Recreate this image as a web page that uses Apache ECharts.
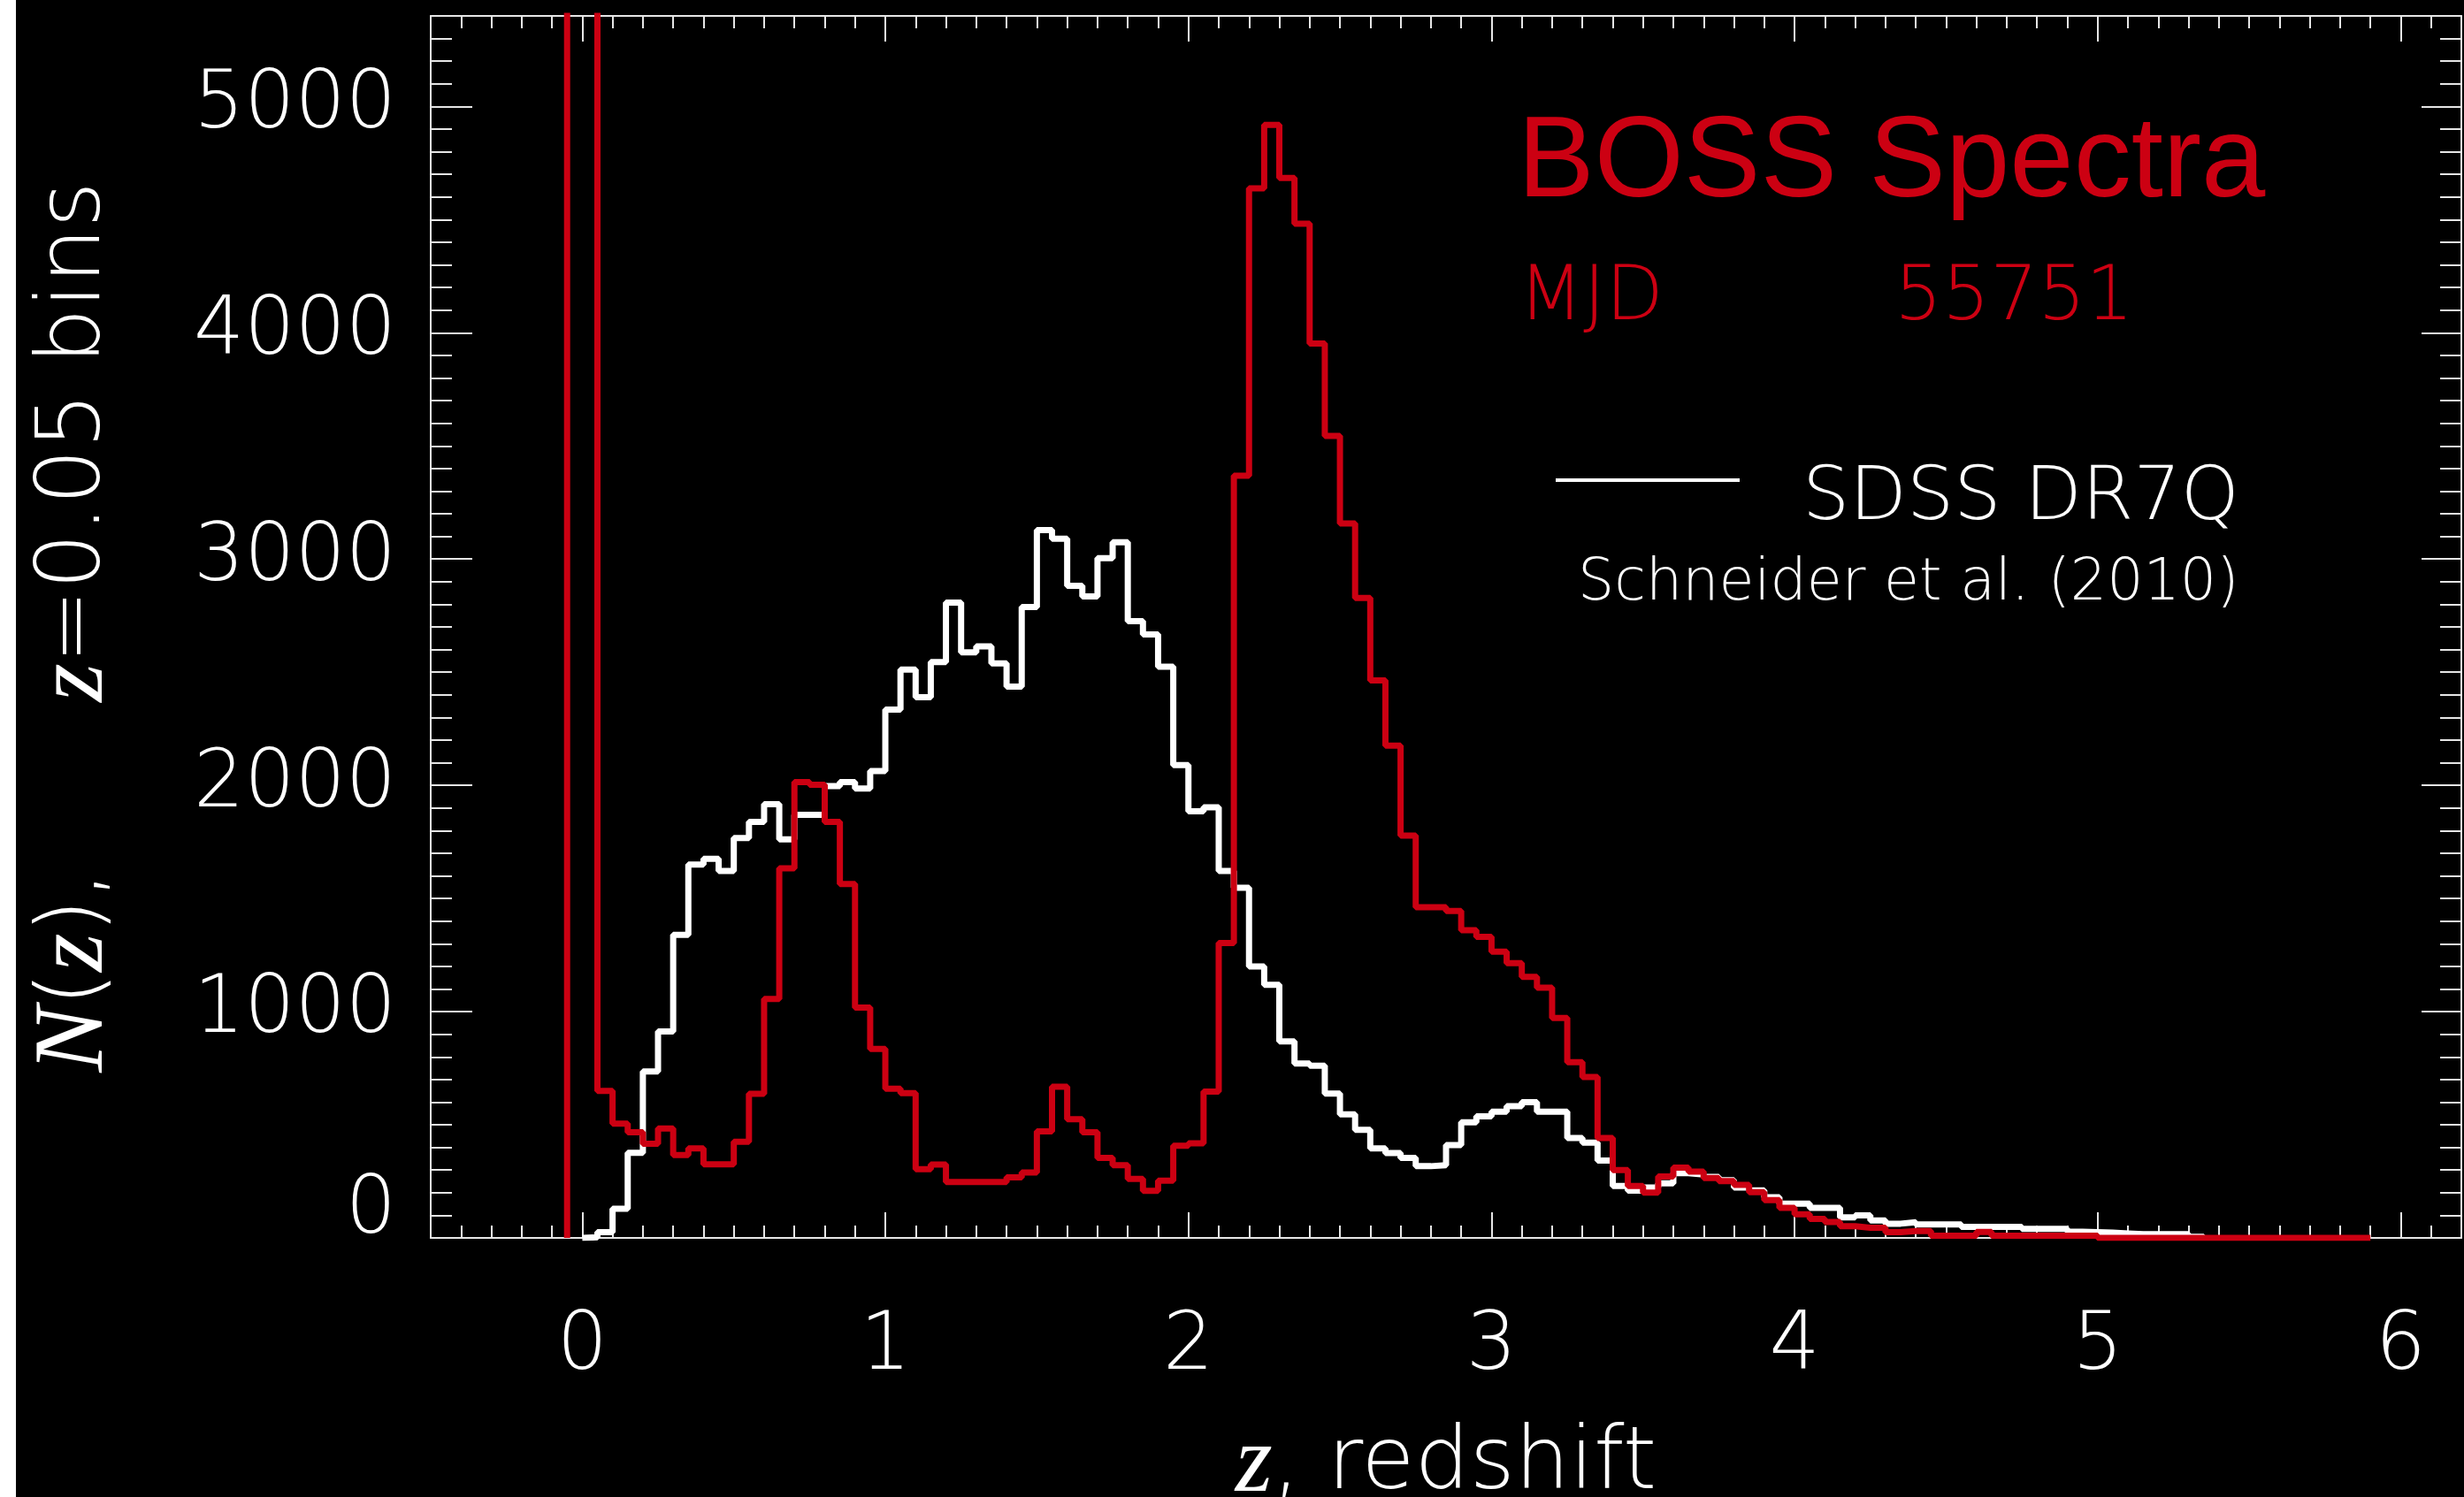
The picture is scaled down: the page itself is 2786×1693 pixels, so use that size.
<!DOCTYPE html>
<html>
<head>
<meta charset="utf-8">
<script src="https://cdn.jsdelivr.net/npm/echarts@6/dist/echarts.min.js"></script>
<style>
  html, body { margin: 0; padding: 0; background: #000; }
  #chart { width: 2786px; height: 1693px; }
</style>
</head>
<body>
<div id="chart"></div>
<script>
// histogram bins, dz = 0.05
const binWidth = 0.05;
const bossStart = -0.05;   // first BOSS bin left edge
const dr7Start = 0.0;      // first DR7Q bin left edge

// BOSS Spectra, MJD 55751 (red) - first two bins run off the top
const bossCounts = [
  12000, 12000, 650, 505, 467, 416, 484, 366, 396, 325,
  325, 425, 637, 1056, 1633, 2014, 2003, 1838, 1564, 1018,
  835, 659, 640, 304, 324, 247, 247, 247, 247, 268,
  289, 471, 668, 525, 467, 354, 321, 261, 208, 253,
  407, 418, 647, 1303, 3368, 4638, 4918, 4684, 4482, 3952,
  3544, 3157, 2828, 2464, 2175, 1778, 1461, 1461, 1445, 1360,
  1330, 1265, 1214, 1154, 1106, 972, 777, 711, 442, 300,
  230, 200, 272, 311, 293, 265, 251, 234, 202, 167,
  133, 105, 84, 70, 52, 45, 45, 25, 30, 30,
  10, 10, 10, 26, 10, 10, 10, 10, 10, 10,
  10, 0, 0, 0, 0, 0, 0, 0, 0, 0,
  0, 0, 0, 0, 0, 0, 0, 0, 0
];

// SDSS DR7Q, Schneider et al. (2010) (white)
const dr7Counts = [
  3, 25, 129, 376, 736, 912, 1339, 1650, 1675, 1622,
  1767, 1838, 1917, 1761, 1870, 1870, 1997, 2014, 1986, 2063,
  2335, 2511, 2389, 2545, 2807, 2588, 2614, 2539, 2436, 2788,
  3128, 3090, 2882, 2835, 3004, 3074, 2725, 2667, 2524, 2089,
  1885, 1903, 1622, 1547, 1200, 1118, 868, 771, 761, 638,
  546, 478, 396, 375, 354, 317, 321, 410, 511, 537,
  558, 582, 600, 558, 558, 442, 421, 342, 230, 209,
  223, 241, 286, 280, 270, 255, 223, 210, 180, 151,
  151, 133, 133, 91, 100, 77, 63, 69, 60, 60,
  60, 49, 49, 49, 49, 40, 40, 40, 27, 25,
  23, 20, 17, 17, 17, 17, 5
];

const xMajorTicks = [0, 1, 2, 3, 4, 5, 6];
const yMajorTicks = [0, 1000, 2000, 3000, 4000, 5000];

const xMin = -0.5, xMax = 6.2;
const yMin = 0, yMax = 5400;

// minor tick positions (every 0.1 in z, every 100 in N)
const xMinorTicks = [];
for (let i = -4; i <= 61; i++) if (i % 10 !== 0) xMinorTicks.push(i / 10);
const yMinorTicks = [];
for (let i = 1; i <= 54; i++) if (i % 10 !== 0) yMinorTicks.push(i * 100);

// histogram outline: flat top over each bin, vertical joins between bins
function outline(start, counts) {
  const pts = [[start, 0]];
  counts.forEach((c, i) => {
    const x0 = +(start + i * binWidth).toFixed(3);
    const x1 = +(start + (i + 1) * binWidth).toFixed(3);
    pts.push([x0, c], [x1, c]);
  });
  pts.push([+(start + counts.length * binWidth).toFixed(3), 0]);
  return pts;
}

const red = '#cc0012';
const fg = '#ffffff';
const axisCol = '#e6e6e6';
const font = 'DejaVu Sans';
const weight = 200;

function xAxisDef(pos, ticks, len, showLine, showLabel) {
  return {
    type: 'value', position: pos, min: xMin, max: xMax,
    axisLine: { show: showLine, onZero: false, lineStyle: { color: axisCol, width: 2 } },
    axisTick: { show: true, inside: true, length: len, customValues: ticks,
                lineStyle: { color: axisCol, width: 2 } },
    axisLabel: { show: showLabel, customValues: ticks, color: fg, fontSize: 90,
                 fontFamily: font, fontWeight: weight, margin: 80 },
    splitLine: { show: false }
  };
}
function yAxisDef(pos, ticks, len, showLine, showLabel) {
  return {
    type: 'value', position: pos, min: yMin, max: yMax,
    axisLine: { show: showLine, onZero: false, lineStyle: { color: axisCol, width: 2 } },
    axisTick: { show: true, inside: true, length: len, customValues: ticks,
                lineStyle: { color: axisCol, width: 2 } },
    axisLabel: {
      show: showLabel, customValues: ticks, color: fg, fontSize: 90,
      fontFamily: font, fontWeight: weight, margin: 39,
      formatter: v => (v === 0 ? '{zero|0}' : String(v)),
      rich: { zero: { fontSize: 90, fontFamily: font, fontWeight: weight, color: fg,
                      padding: [0, 0, 58, 0] } }
    },
    splitLine: { show: false }
  };
}

const xAxes = [
  xAxisDef('bottom', xMajorTicks, 29, true, true),
  xAxisDef('bottom', xMinorTicks, 14, false, false),
  xAxisDef('top', xMajorTicks, 29, true, false),
  xAxisDef('top', xMinorTicks, 14, false, false)
];
xAxes[0].name = '{it|z}, redshift';
xAxes[0].nameLocation = 'middle';
xAxes[0].nameGap = 204;
xAxes[0].nameTextStyle = {
  color: fg, fontSize: 98, fontFamily: font, fontWeight: weight,
  rich: { it: { fontSize: 108, fontFamily: 'Liberation Serif', fontStyle: 'italic', color: fg } }
};

const yAxes = [
  yAxisDef('left', yMajorTicks, 47, true, true),
  yAxisDef('left', yMinorTicks, 24, false, false),
  yAxisDef('right', yMajorTicks, 45, true, false),
  yAxisDef('right', yMinorTicks, 24, false, false)
];
yAxes[0].name = '{it|N}({it|z}),      {it|z}=0.05 bins';
yAxes[0].nameLocation = 'middle';
yAxes[0].nameRotate = 90;
yAxes[0].nameGap = 345;
yAxes[0].nameTextStyle = {
  color: fg, fontSize: 100, fontFamily: font, fontWeight: weight,
  rich: { it: { fontSize: 112, fontFamily: 'Liberation Serif', fontStyle: 'italic', color: fg } }
};

const chart = echarts.init(document.getElementById('chart'));
chart.setOption({
  backgroundColor: '#000',
  animation: false,
  grid: { left: 487, right: 3, top: 18, bottom: 293, containLabel: false, outerBoundsMode: 'none' },
  xAxis: xAxes,
  yAxis: yAxes,
  legend: {
    data: [{ name: 'SDSS DR7Q', icon: 'rect', itemStyle: { color: fg } }],
    left: 1759, top: 501, padding: 0,
    itemWidth: 208, itemHeight: 4,
    formatter: '{g|}{t|SDSS DR7Q}',
    textStyle: {
      color: fg, fontSize: 84, fontFamily: font, fontWeight: weight,
      rich: {
        g: { width: 66 },
        t: { fontSize: 84, fontFamily: font, fontWeight: weight, color: fg, padding: [44, 0, 0, 0] }
      }
    },
    selectedMode: false
  },
  graphic: [
    { type: 'rect', left: 0, top: 0, shape: { width: 18, height: 1693 }, style: { fill: '#fff' }, z: 100 },
    { type: 'text', x: 1716, y: 186, style: { text: 'BOSS Spectra', fill: red,
      font: '130px "Liberation Sans"', verticalAlign: 'middle' } },
    { type: 'text', x: 1717, y: 339, style: { text: 'MJD', fill: red,
      font: `${weight} 85px "DejaVu Sans"`, verticalAlign: 'middle' } },
    { type: 'text', x: 2142, y: 339, style: { text: '55751', fill: red,
      font: `${weight} 85px "DejaVu Sans"`, verticalAlign: 'middle' } },
    { type: 'text', x: 1784, y: 661, style: { text: 'Schneider et al. (2010)', fill: fg,
      font: `${weight} 65px "DejaVu Sans"`, verticalAlign: 'middle' } }
  ],
  series: [
    {
      name: 'SDSS DR7Q', type: 'line', symbol: 'none', clip: true,
      xAxisIndex: 0, yAxisIndex: 0,
      lineStyle: { color: fg, width: 7 }, itemStyle: { color: fg },
      data: outline(dr7Start, dr7Counts), z: 2
    },
    {
      name: 'BOSS', type: 'line', symbol: 'none', clip: true,
      xAxisIndex: 0, yAxisIndex: 0,
      lineStyle: { color: red, width: 7 }, itemStyle: { color: red },
      data: outline(bossStart, bossCounts), z: 3
    }
  ]
});
</script>
</body>
</html>
